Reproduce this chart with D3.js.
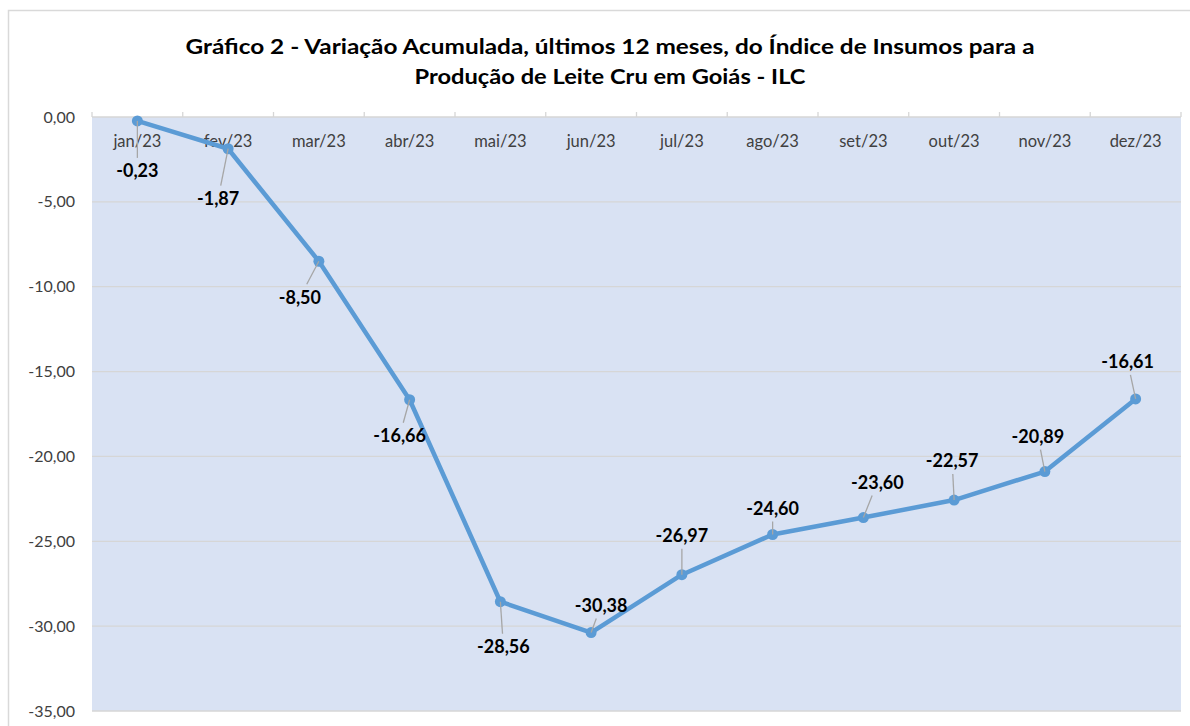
<!DOCTYPE html>
<html>
  <head>
    <meta charset="utf-8">
    <title>Gráfico 2 - ILC</title>
    <style>
      body { margin: 0; background: #fff; }
      text { font-family: Lato, "Open Sans", sans-serif; }
      .grid line { stroke: #d6d6d6; stroke-width: 1.3; }
      .leader { stroke: #a6a6a6; stroke-width: 1.3; }
    </style>
    <script src="https://cdn.jsdelivr.net/npm/d3@7"></script>
  </head>
  <body>
    <svg id="chart" width="1190" height="726"></svg>
  <script>
    // dados
    const months = ["jan/23", "fev/23", "mar/23", "abr/23", "mai/23", "jun/23",
                    "jul/23", "ago/23", "set/23", "out/23", "nov/23", "dez/23"];
    const values = [-0.23, -1.87, -8.50, -16.66, -28.56, -30.38,
                    -26.97, -24.60, -23.60, -22.57, -20.89, -16.61];
    const yTicks = [0, -5, -10, -15, -20, -25, -30, -35];
    const titleLines = ["Gráfico 2 - Variação Acumulada, últimos 12 meses, do Índice de Insumos para a",
                        "Produção de Leite Cru em Goiás - ILC"];

    // label placement relative to the marker (px), as Excel left them
    const labelOffsets = [[0, 50], [-10, 50], [-19, 36], [-10, 36], [3, 45], [10, -27],
                          [0, -39], [0, -26], [14, -35], [-2, -39], [-7, -35], [-8, -37]];

    const svg = d3.select("#chart");
    const plot = { left: 92, right: 1181, top: 117, bottom: 711 };

    // pt-BR number format with a plain hyphen for the sign
    const locale = d3.formatLocale({ decimal: ",", thousands: ".", grouping: [3],
                                     currency: ["R$", ""], minus: "-" });
    const fmt = locale.format(".2f");

    // chart border
    svg.append("rect")
      .attr("x", 8.5).attr("y", 10.5)
      .attr("width", 1220).attr("height", 740)
      .attr("fill", "#fff").attr("stroke", "#d9d9d9").attr("stroke-width", 1.5);

    const x = d3.scaleBand().domain(months).range([plot.left, plot.right]);
    const y = d3.scaleLinear().domain([-35, 0]).range([plot.bottom, plot.top]);

    // title
    const titleWidths = [849, 391];
    svg.append("g").selectAll("text")
      .data(titleLines)
      .join("text")
      .attr("x", 610)
      .attr("y", (d, i) => 54 + i * 30)
      .attr("text-anchor", "middle")
      .attr("font-size", 21)
      .attr("font-weight", "bold")
      .attr("fill", "#000")
      .attr("textLength", (d, i) => titleWidths[i])
      .attr("lengthAdjust", "spacingAndGlyphs")
      .text(d => d);

    // plot background
    svg.append("rect")
      .attr("x", plot.left).attr("y", plot.top)
      .attr("width", plot.right - plot.left).attr("height", plot.bottom - plot.top)
      .attr("fill", "#d9e2f3");

    // gridlines
    svg.append("g").attr("class", "grid")
      .selectAll("line")
      .data(yTicks)
      .join("line")
      .attr("x1", plot.left).attr("x2", plot.right)
      .attr("y1", d => y(d)).attr("y2", d => y(d));

    // category ticks at the top (axis crosses at 0)
    const xBounds = months.map(m => x(m)).concat([plot.right]);
    svg.append("g").attr("class", "grid")
      .selectAll("line")
      .data(xBounds)
      .join("line")
      .attr("x1", d => d).attr("x2", d => d)
      .attr("y1", plot.top - 5).attr("y2", plot.top);

    // y axis
    const yAxis = d3.axisLeft(y).tickValues(yTicks).tickSize(0).tickPadding(0)
      .tickFormat(fmt);
    svg.append("g")
      .attr("transform", `translate(${plot.left - 17},0)`)
      .call(yAxis)
      .call(g => g.select(".domain").remove())
      .call(g => g.selectAll("text")
        .attr("font-family", "Lato, sans-serif")
        .attr("font-size", 16)
        .attr("fill", "#404040"));

    // x axis labels (below the 0 line)
    const xAxis = d3.axisTop(x).tickSize(0).tickPadding(0);
    svg.append("g")
      .attr("transform", `translate(0,${plot.top + 30})`)
      .call(xAxis)
      .call(g => g.select(".domain").remove())
      .call(g => g.selectAll("text")
        .attr("font-family", "Lato, sans-serif")
        .attr("font-size", 16.5)
        .attr("fill", "#404040"));

    const cx = i => x(months[i]) + x.bandwidth() / 2;

    // line
    const line = d3.line().x((d, i) => cx(i)).y(d => y(d));
    svg.append("path")
      .datum(values)
      .attr("fill", "none")
      .attr("stroke", "#5b9bd5")
      .attr("stroke-width", 4.5)
      .attr("stroke-linejoin", "round")
      .attr("d", line);

    // data labels
    const labels = svg.append("g").selectAll("text")
      .data(values)
      .join("text")
      .attr("x", (d, i) => cx(i) + labelOffsets[i][0])
      .attr("y", (d, i) => y(d) + labelOffsets[i][1])
      .attr("dy", "0.35em")
      .attr("text-anchor", "middle")
      .attr("font-size", 18)
      .attr("font-weight", "bold")
      .attr("fill", "#000")
      .text(d => fmt(d));

    // leader lines: from marker to the edge of the label box
    const leaders = [];
    labels.each(function (d, i) {
      const bb = this.getBBox();
      const px = cx(i), py = y(d);
      const dx = labelOffsets[i][0], dy = labelOffsets[i][1];
      const hw = bb.width / 2 + 3, hh = 13;
      const tx = Math.abs(dx) > 1e-6 ? 1 - hw / Math.abs(dx) : -1;
      const ty = Math.abs(dy) > 1e-6 ? 1 - hh / Math.abs(dy) : -1;
      const tt = Math.min(Math.max(tx, ty), 1);
      const len = Math.hypot(dx * tt, dy * tt);
      if (tt > 0 && len > 10) leaders.push({ x1: px, y1: py, x2: px + dx * tt, y2: py + dy * tt });
    });

    // markers
    svg.append("g").selectAll("circle")
      .data(values)
      .join("circle")
      .attr("cx", (d, i) => cx(i))
      .attr("cy", d => y(d))
      .attr("r", 5.5)
      .attr("fill", "#5b9bd5");

    // leaders sit over the markers in the original
    svg.append("g").selectAll("line")
      .data(leaders)
      .join("line")
      .attr("class", "leader")
      .attr("x1", d => d.x1).attr("y1", d => d.y1)
      .attr("x2", d => d.x2).attr("y2", d => d.y2);

    labels.raise();
  </script>
  </body>
</html>
